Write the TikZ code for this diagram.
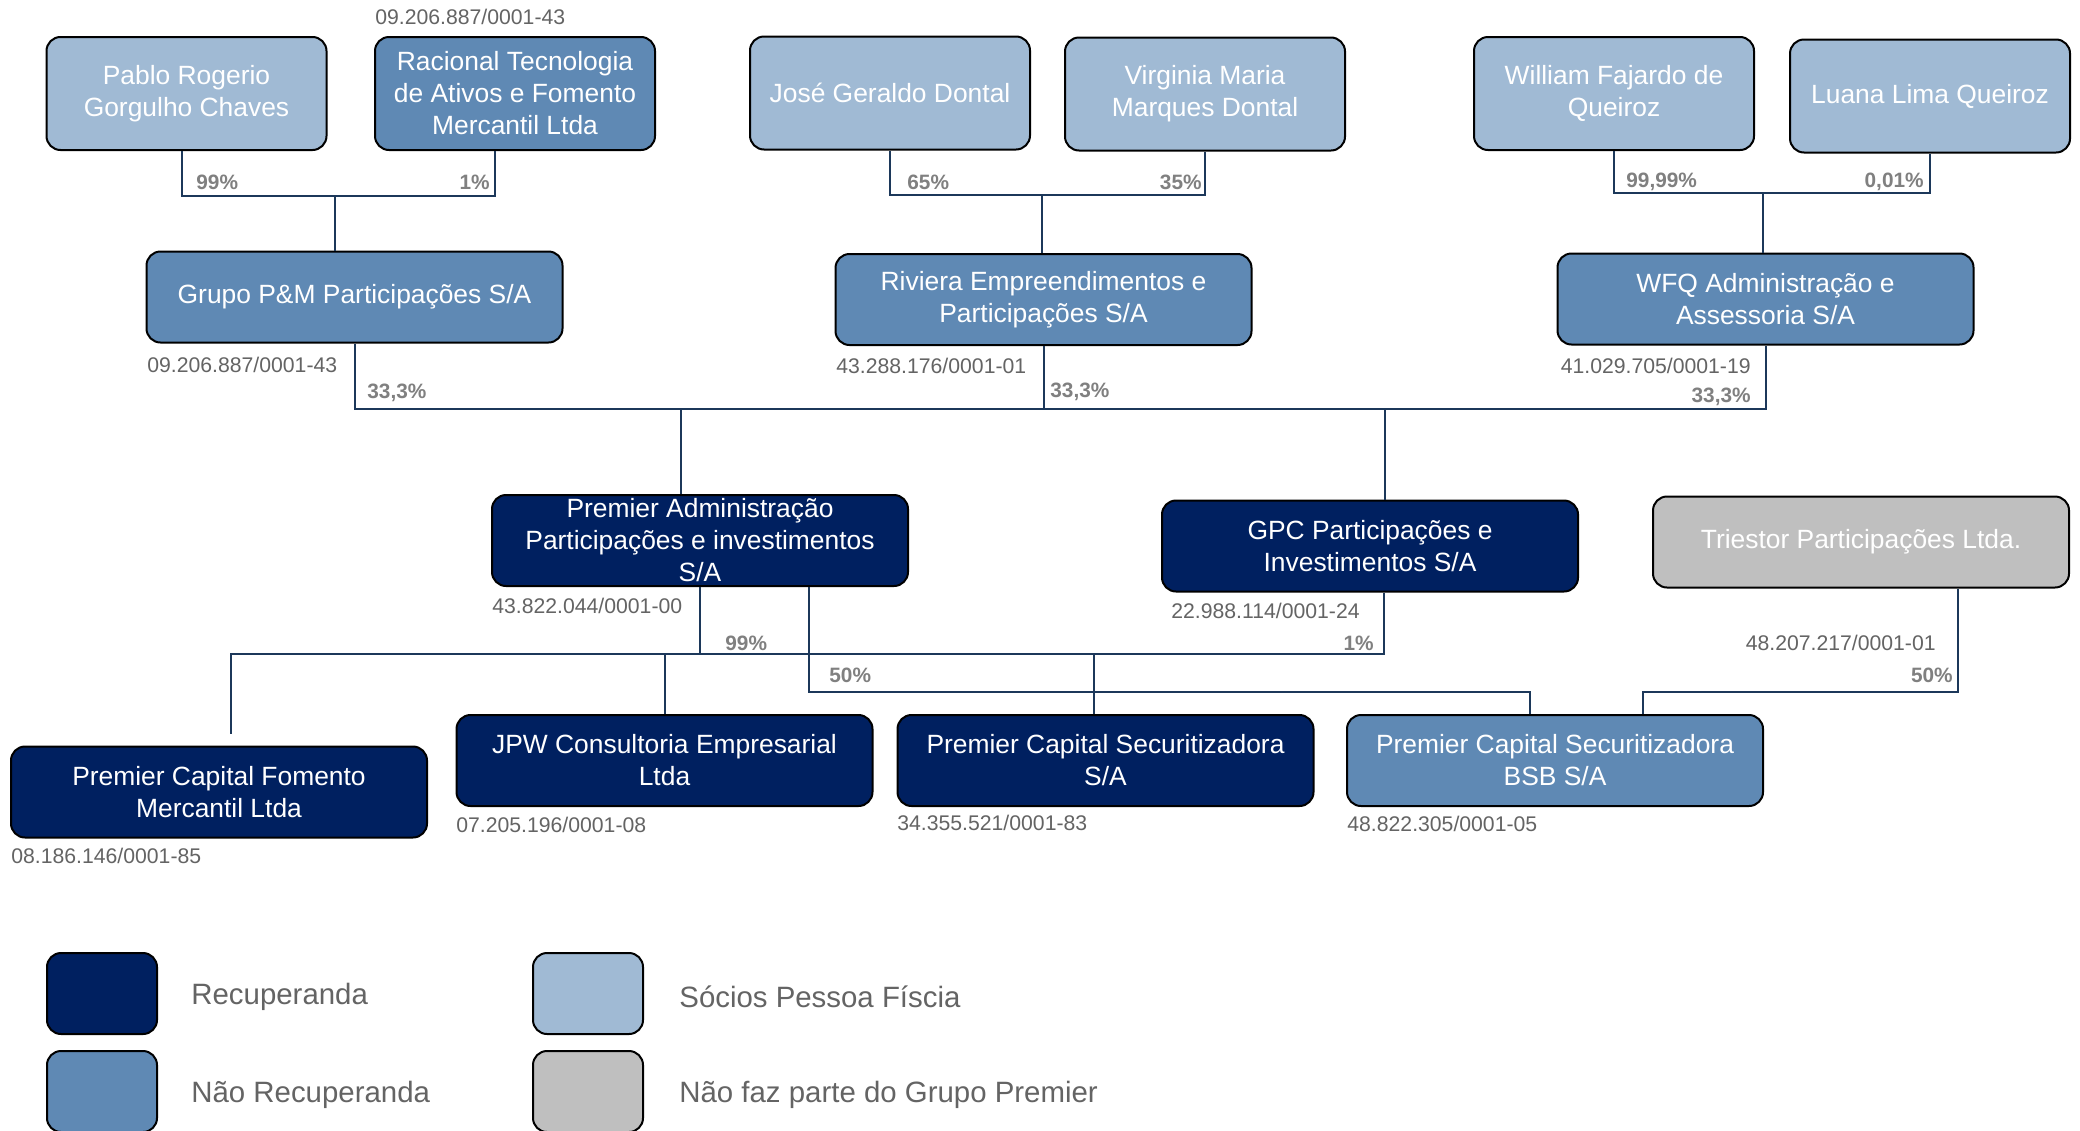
\documentclass[tikz,border=0pt]{standalone}
\usepackage{fontspec}
\setmainfont{Liberation Sans}
\usetikzlibrary{calc}
\definecolor{azulesc}{RGB}{0,32,96}
\definecolor{azulmed}{RGB}{95,137,180}
\definecolor{azulcla}{RGB}{160,186,212}
\definecolor{cinza}{RGB}{191,191,191}
\definecolor{linha}{RGB}{28,56,90}
\definecolor{txtcinza}{RGB}{100,100,100}
\definecolor{pctcinza}{RGB}{128,128,128}
\tikzstyle{caixa} = [rectangle, rounded corners=7pt,
draw=black, line width=1pt,
minimum height=45.5pt,
minimum width=208pt,
inner sep=0pt,
align=center,
text=white,
font=\fontsize{13.2}{16}\selectfont]
\tikzstyle{socio} = [caixa, fill=azulcla, minimum width=140pt, minimum height=56.5pt]
\tikzstyle{naorec} = [caixa, fill=azulmed]
\tikzstyle{recup} = [caixa, fill=azulesc]
\tikzstyle{externa} = [caixa, fill=cinza]
\tikzstyle{cnpj} = [inner sep=0pt, text=txtcinza, font=\fontsize{10.6}{12}\selectfont]
\tikzstyle{pct} = [inner sep=0pt, text=pctcinza, font=\fontsize{10.4}{12}\selectfont\bfseries]
\tikzstyle{legbox} = [rectangle, rounded corners=7pt, draw=black, line width=1pt,
minimum width=55pt, minimum height=40.5pt, inner sep=0pt]
\tikzstyle{legtxt} = [inner sep=0pt, anchor=west, text=txtcinza, font=\fontsize{14.7}{17}\selectfont]
\tikzstyle{liga} = [draw=linha, line width=1pt]

\begin{document}
\begin{tikzpicture}[x=0.5pt, y=-0.5pt]
\fill[white] (0,0) rectangle (2080,1130);
\useasboundingbox (0,0) rectangle (2080,1130);

% socios
\node (pablo) [socio] at (186.5,93.5) {Pablo Rogerio\\ Gorgulho Chaves};
\node (racional) [naorec, minimum width=140pt, minimum height=56.5pt] at (515,93.5) {Racional Tecnologia\\ de Ativos e Fomento\\ Mercantil Ltda};
\node (jose) [socio] at (890,93) {José Geraldo Dontal};
\node (virginia) [socio] at (1205,94) {Virginia Maria\\ Marques Dontal};
\node (william) [socio] at (1614,93.5) {William Fajardo de\\ Queiroz};
\node (luana) [socio] at (1930,96) {Luana Lima Queiroz};

% holdings
\node (grupo) [naorec] at (354.5,297) {Grupo P\&M Participações S/A};
\node (riviera) [naorec] at (1043.5,299.5) {Riviera Empreendimentos e\\ Participações S/A};
\node (wfq) [naorec] at (1765.5,299) {WFQ Administração e\\ Assessoria S/A};

\node (premadm) [recup] at (700,540.5) {Premier Administração\\ Participações e investimentos\\ S/A};
\node (gpc) [recup] at (1370,546) {GPC Participações e\\ Investimentos S/A};
\node (triestor) [externa] at (1861,542) {Triestor Participações Ltda.};

\node (fomento) [recup] at (219,792) {Premier Capital Fomento\\ Mercantil Ltda};
\node (jpw) [recup] at (664.5,760.5) {JPW Consultoria Empresarial\\ Ltda};
\node (pcsec) [recup] at (1105.5,760.5) {Premier Capital Securitizadora\\ S/A};
\node (bsb) [naorec] at (1555,760.5) {Premier Capital Securitizadora\\ BSB S/A};

% cnpj
\node (cnpjrac) [cnpj, anchor=west] at (375,17) {09.206.887/0001-43};
\node (cnpjgru) [cnpj, anchor=west] at (147,365) {09.206.887/0001-43};
\node (cnpjriv) [cnpj, anchor=west] at (836,366) {43.288.176/0001-01};
\node (cnpjwfq) [cnpj, anchor=east] at (1751,366) {41.029.705/0001-19};
\node (cnpjadm) [cnpj, anchor=west] at (492,606) {43.822.044/0001-00};
\node (cnpjgpc) [cnpj, anchor=west] at (1171,611) {22.988.114/0001-24};
\node (cnpjtri) [cnpj, anchor=east] at (1936,643) {48.207.217/0001-01};
\node (cnpjfom) [cnpj, anchor=west] at (11,856) {08.186.146/0001-85};
\node (cnpjjpw) [cnpj, anchor=west] at (456,825) {07.205.196/0001-08};
\node (cnpjsec) [cnpj, anchor=west] at (897,823) {34.355.521/0001-83};
\node (cnpjbsb) [cnpj, anchor=west] at (1347,824) {48.822.305/0001-05};

% participacoes
\node (p1) [pct, anchor=west] at (196,182) {99\%};
\node (p2) [pct, anchor=east] at (490,182) {1\%};
\node (p3) [pct, anchor=west] at (907,182) {65\%};
\node (p4) [pct, anchor=east] at (1202,182) {35\%};
\node (p5) [pct, anchor=west] at (1626,182) {99,99\%};
\node (p6) [pct, anchor=east] at (1924,182) {0,01\%};
\node (p7) [pct, anchor=west] at (367,393) {33,3\%};
\node (p8) [pct, anchor=west] at (1050,392) {33,3\%};
\node (p9) [pct, anchor=east] at (1751,397) {33,3\%};
\node (p10) [pct, anchor=west] at (725,643) {99\%};
\node (p11) [pct, anchor=east] at (1374,643) {1\%};
\node (p12) [pct, anchor=west] at (829,675) {50\%};
\node (p13) [pct, anchor=east] at (1953,675) {50\%};

% ligacoes
\coordinate (jpm) at (335,196);
\coordinate (jdo) at (1042,195);
\coordinate (jwq) at (1763,193);
\coordinate (bus) at (0,409);
\coordinate (bus2) at (0,654);
\coordinate (bus3) at (0,692);

\draw [liga] ([xshift=-2.5pt]pablo.south) |- (jpm) -| ([xshift=-10pt]racional.south);
\draw [liga] (jpm) -- (jpm |- grupo.north);
\draw [liga] (jose.south) |- (jdo) -| (virginia.south);
\draw [liga] (jdo) -- (jdo |- riviera.north);
\draw [liga] (william.south) |- (jwq) -| (luana.south);
\draw [liga] (jwq) -- (jwq |- wfq.north);

\draw [liga] (grupo.south) -- (grupo.south |- bus) -- (wfq.south |- bus) -- (wfq.south);
\draw [liga] (riviera.south) -- (riviera.south |- bus);
\draw [liga] ([xshift=-9.5pt]premadm.north |- bus) -- ([xshift=-9.5pt]premadm.north);
\draw [liga] ([xshift=7.5pt]gpc.north |- bus) -- ([xshift=7.5pt]gpc.north);

\draw [liga] (premadm.south) -- (premadm.south |- bus2);
\draw [liga] ([xshift=7pt]gpc.south) -- ([xshift=7pt]gpc.south |- bus2) -- ([xshift=6pt]fomento.north |- bus2) -- ([xshift=6pt,yshift=6pt]fomento.north);
\draw [liga] (jpw.north |- bus2) -- (jpw.north);
\draw [liga] ([xshift=-6pt]pcsec.north |- bus2) -- ([xshift=-6pt]pcsec.north);
\draw [liga] ([xshift=54.5pt]premadm.south) -- ([xshift=54.5pt]premadm.south |- bus3) -- ([xshift=-12.5pt]bsb.north |- bus3) -- ([xshift=-12.5pt]bsb.north);
\draw [liga] ([xshift=48.5pt]triestor.south) -- ([xshift=48.5pt]triestor.south |- bus3) -- ([xshift=44pt]bsb.north |- bus3) -- ([xshift=44pt]bsb.north);

% legenda
\node (leg1) [legbox, fill=azulesc] at (102,993.5) {};
\node (leg2) [legbox, fill=azulmed] at (102,1091.5) {};
\node (leg3) [legbox, fill=azulcla] at (588,993.5) {};
\node (leg4) [legbox, fill=cinza] at (588,1091.5) {};
\node (legt1) [legtxt] at (191,997) {Recuperanda};
\node (legt2) [legtxt] at (191,1095) {Não Recuperanda};
\node (legt3) [legtxt] at (679,997) {Sócios Pessoa Físcia};
\node (legt4) [legtxt] at (679,1095) {Não faz parte do Grupo Premier};

\end{tikzpicture}
\end{document}
